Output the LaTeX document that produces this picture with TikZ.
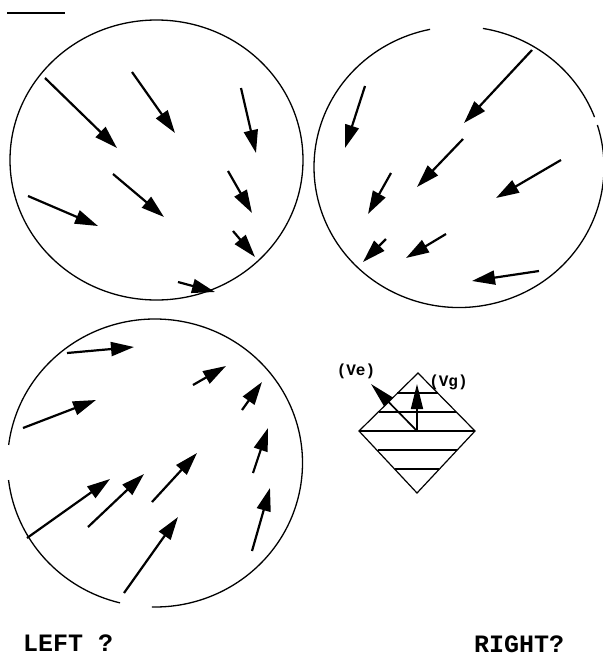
\documentclass[tikz,border=0pt]{standalone}
\usepackage{fontspec}
\setmonofont{Liberation Mono}
\usetikzlibrary{arrows.meta, calc}

\begin{document}
\begin{tikzpicture}[
    x=1pt, y=-1pt,
    rim/.style={line width=1.3pt},
    vec/.style={line width=2.2pt, -{Triangle[length=23pt, width=14pt]}},
    vsmall/.style={line width=1.7pt, -{Triangle[length=25pt, width=12pt]}},
    hatch/.style={line width=1.2pt},
    label/.style={font=\ttfamily\bfseries\fontsize{16}{16}\selectfont, inner sep=0pt, anchor=base},
    side/.style={font=\ttfamily\bfseries\fontsize{25}{25}\selectfont, inner sep=0pt, anchor=base west}
]
    \useasboundingbox (0,0) rectangle (603,657);

    \coordinate (c1) at (156.5,160);
    \coordinate (c2) at (459,167);
    \coordinate (c3) at (155,463);

    \draw[line width=1.4pt] (7,13) -- (65,13);

    \draw[rim] (c1) ellipse [x radius=146.5, y radius=140];
    \draw[rim] ($(c2)+(-17.4:145 and 140.5)$) arc [start angle=-17.4, end angle=258.5, x radius=145, y radius=140.5];
    \draw[rim] ($(c2)+(279.5:145 and 140.5)$) arc [start angle=279.5, end angle=339.2, x radius=145, y radius=140.5];
    \draw[rim] ($(c3)+(103.7:147.5 and 144)$) arc [start angle=103.7, end angle=173.2, x radius=147.5, y radius=144];
    \draw[rim] ($(c3)+(187.2:147.5 and 144)$) arc [start angle=187.2, end angle=451.2, x radius=147.5, y radius=144];

    \draw[vec] (45,78) -- (117,148);
    \draw[vec] (132,72) -- (175,133);
    \draw[vec] (241,88) -- (256,153);
    \draw[vec] (113,174) -- (164,217);
    \draw[vec] (28,196) -- (98,226);
    \draw[vec] (228,171) -- (252,213);
    \draw[vec] (233,231) -- (255,257);
    \draw[vec] (178,282) -- (215,292);

    \draw[vec] (532,50) -- (464,123);
    \draw[vec] (365,86) -- (345,148);
    \draw[vec] (463,139) -- (417,187);
    \draw[vec] (561,160) -- (496,198);
    \draw[vec] (391,173) -- (368,214);
    \draw[vec] (386,239) -- (363,262);
    \draw[vec] (446,234) -- (406,258);
    \draw[vec] (539,271) -- (472,281);

    \draw[vec] (67,353) -- (134,347);
    \draw[vec] (23,428) -- (96,400);
    \draw[vec] (193,385) -- (226,366);
    \draw[vec] (242,410) -- (262,382);
    \draw[vec] (253,473) -- (268,428);
    \draw[vec] (27,538) -- (110,479);
    \draw[vec] (88,527) -- (144,474);
    \draw[vec] (152,502) -- (197,453);
    \draw[vec] (124,593) -- (178,517);
    \draw[vec] (252,551) -- (270,488);

    \coordinate (dtop) at (418,373);
    \coordinate (dleft) at (359,431);
    \coordinate (dright) at (475,431);
    \coordinate (dbottom) at (417,493);
    \coordinate (base) at (417,431);
    \draw[hatch] (dtop) -- (dright) -- (dbottom) -- (dleft) -- cycle;
    \draw[hatch] (397,393) -- (438,393);
    \draw[hatch] (379,412) -- (456,412);
    \draw[hatch] (dleft) -- (dright);
    \draw[hatch] (378,450) -- (457,450);
    \draw[hatch] (395,469) -- (439,469);
    \draw[vsmall] (base) -- (371,384);
    \draw[vsmall] (base) -- (417,384);

    \node[label] (ve) at (356,375) {(Ve)};
    \node[label] (vg) at (448.5,386) {(Vg)};

    \node[side] (lefttext) at (23,651) {LEFT ?};
    \node[side] (righttext) at (474,652) {RIGHT?};
\end{tikzpicture}
\end{document}
